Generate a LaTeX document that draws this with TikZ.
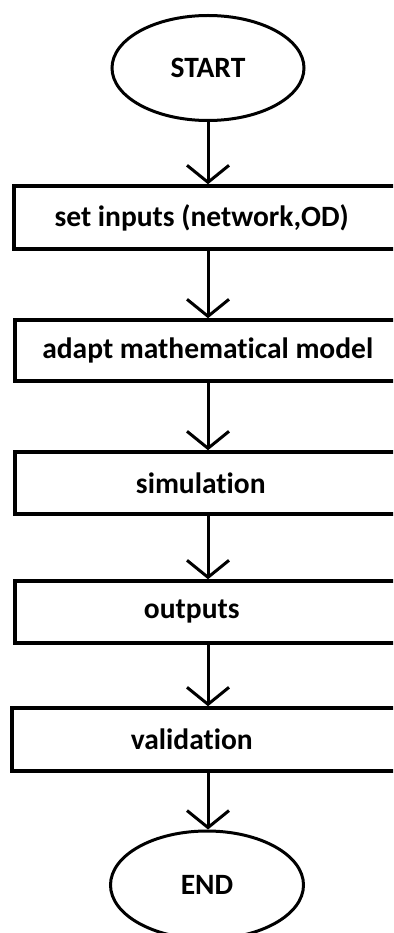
\documentclass[tikz,border=0pt]{standalone}
\usepackage{fontspec}
\setmainfont{Carlito}[Ligatures=NoCommon]
\usetikzlibrary{shapes.geometric,arrows.meta}

\begin{document}
\begin{tikzpicture}[x=1pt,y=-1pt,
    term/.style={ellipse,draw,line width=3pt,minimum width=192pt,minimum height=105pt,inner sep=0pt},
    stepbox/.style={rectangle,draw,line width=3.5pt,anchor=west,minimum width=440pt,minimum height=62pt,inner sep=0pt},
    txt/.style={font=\bfseries\fontsize{29.5}{32}\selectfont},
    arr/.style={line width=3pt,-{Straight Barb[length=17pt,width=42pt,line width=3pt]}}]
    % Frame
    \useasboundingbox (0,0) rectangle (393,933);
    \clip (0,0) rectangle (393,933);
    % Start
    \node[term,txt] (start) at (208,68) {START};
    % Steps
    \node[stepbox,minimum height=63pt,label={[txt,xshift=-32pt]center:set inputs (network,OD)}] (inputs) at (12,217.5) {};
    \node[stepbox,minimum height=61pt,label={[txt,xshift=-27pt]center:adapt mathematical model}] (model) at (13,350.5) {};
    \node[stepbox,label={[txt,xshift=-34pt]center:simulation}] (sim) at (13,483) {};
    \node[stepbox,label={[txt,xshift=-43pt]center:outputs}] (outputs) at (13,612) {};
    \node[stepbox,minimum height=63pt,label={[txt,xshift=-40pt]center:validation}] (valid) at (10,739.5) {};
    % End
    \node[term,txt,minimum width=193pt,minimum height=108pt] (stop) at (207,885) {END};
    % Arrows
    \draw[arr] (start) -- (start |- inputs.north);
    \draw[arr] (inputs.south -| start) -- (start |- model.north);
    \draw[arr] (model.south -| start) -- (start |- sim.north);
    \draw[arr] (sim.south -| start) -- (start |- outputs.north);
    \draw[arr] (outputs.south -| start) -- (start |- valid.north);
    \draw[arr] (valid.south -| start) -- (start |- stop.north);
\end{tikzpicture}
\end{document}
